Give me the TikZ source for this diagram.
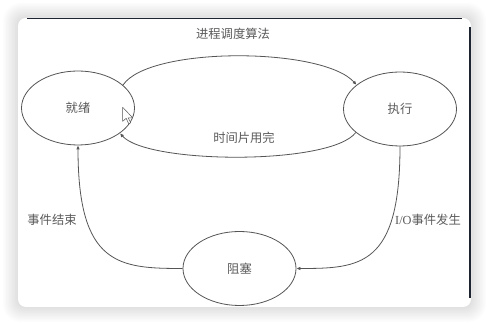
\documentclass[tikz,border=0pt]{standalone}
\usepackage{fontspec}
\setmainfont{Liberation Serif}
\newfontfamily\cjk{Noto Sans CJK SC}
\usetikzlibrary{arrows.meta,shapes.geometric}
\definecolor{ink}{HTML}{555555}
\definecolor{txt}{HTML}{5A5A5A}
\definecolor{frameline}{HTML}{1E2430}

\begin{document}
\begin{tikzpicture}[x=1pt,y=1pt,
  state/.style={draw=ink, line width=0.8pt, ellipse, minimum width=113pt,
    minimum height=74pt, inner sep=0pt, text=txt,
    font=\cjk\fontsize{12.3}{14}\selectfont},
  lbl/.style={inner sep=0pt, text=txt, font=\fontsize{12.3}{14}\selectfont},
  flow/.style={draw=ink, line width=0.8pt, -{Latex[length=4pt,width=3.6pt]}}
]
\useasboundingbox (0,0) rectangle (490,326);

% soft shadow around the card
\foreach \i in {1,...,10}
  \fill[black, opacity=0.012, rounded corners=8+\i]
    (18-1.5*\i, 19-1.5*\i) rectangle (471+1.5*\i, 308+1.5*\i);

% the card
\fill[white, rounded corners=8] (18,19) rectangle (471,308);
\draw[frameline, line width=1.4pt] (27,307.3) -- (462,307.3);
\draw[frameline, line width=1.6pt] (470,299) -- (470,28);

% states
\node[state] (ready) at (78,218) {就绪};
\node[state] (run)   at (400,217) {执行};
\node[state] (block) at (239.5,57.5) {阻塞};

% transitions
\draw[flow] (ready.27) .. controls +(26,39) and +(-34,38) .. (run.151);
\draw[flow] (run.208) .. controls +(-25,-33) and +(27,-31) .. (ready.329);
\draw[flow] (block.west) .. controls +(-64,0) and +(0,-120) .. (ready.south);
\draw[flow] (run.south) .. controls +(0,-120) and +(64,0) .. (block.east);

% labels
\node[lbl] (lsched) at (233,292) {\cjk 进程调度算法};
\node[lbl] (lslice) at (244,188) {\cjk 时间片用完};
\node[lbl] (ldone)  at (52,106)  {\cjk 事件结束};
\node[lbl] (lio)    at (428,106) {I/O{\cjk 事件发生}};

% mouse pointer
\draw[ink, fill=white, line width=0.5pt, line join=round]
  (122.7,218.7) -- ++(0,-14) -- ++(3.5,3) -- ++(2.5,-5.5) -- ++(2,1)
  -- ++(-2.5,5) -- ++(4.5,0) -- cycle;
\end{tikzpicture}
\end{document}
